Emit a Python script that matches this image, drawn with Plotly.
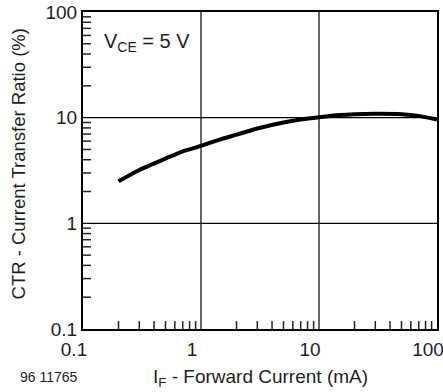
import plotly.graph_objects as go

# Data
forward_current_mA = [0.2, 0.3, 0.5, 0.7, 1.0, 1.5, 2.0, 3.0, 5.0, 7.0, 10.0, 15.0, 20.0, 30.0, 50.0, 70.0, 100.0]
ctr_percent = [2.5, 3.2, 4.1, 4.8, 5.4, 6.3, 6.9, 7.9, 9.0, 9.6, 10.1, 10.6, 10.8, 10.9, 10.8, 10.4, 9.6]

major_ticks = [0.1, 1, 10, 100]
major_labels = ["0.1", "1", "10", "100"]
minor_ticks = [round(m * d, 6) for d in major_ticks[:-1] for m in range(2, 10)]

FONT = "Liberation Sans, Arial, sans-serif"
TXT = "#1e1e1e"
TICK_PX = 8

fig = go.Figure()
fig.add_trace(go.Scatter(
    x=forward_current_mA, y=ctr_percent, mode="lines",
    line=dict(color="black", width=4, shape="spline", smoothing=0.6),
    hoverinfo="skip", showlegend=False,
))

axis_common = dict(
    type="log", range=[-1, 2],
    tickvals=major_ticks, ticktext=major_labels,
    ticks="", showgrid=False,
    showline=True, linecolor="black", linewidth=2, mirror=True,
    zeroline=False, automargin=False, ticklabeloverflow="allow",
    tickfont=dict(family=FONT, size=19, color=TXT),
)

fig.update_xaxes(**axis_common, ticklabelshift=-9, ticklabelstandoff=2)
fig.update_yaxes(**axis_common)

# decade grid lines
for v in major_ticks[1:-1]:
    fig.add_shape(type="line", xref="x", yref="paper", x0=v, x1=v, y0=0, y1=1,
                  line=dict(color="black", width=1.2), layer="below")
    fig.add_shape(type="line", xref="paper", yref="y", y0=v, y1=v, x0=0, x1=1,
                  line=dict(color="black", width=1.2), layer="below")

# inward minor ticks on bottom and left axes
for v in minor_ticks:
    fig.add_shape(type="line", xref="x", yref="paper", x0=v, x1=v,
                  ysizemode="pixel", yanchor=0, y0=0, y1=TICK_PX,
                  line=dict(color="#222", width=1.5), layer="above")
    fig.add_shape(type="line", xref="paper", yref="y", y0=v, y1=v,
                  xsizemode="pixel", xanchor=0, x0=0, x1=TICK_PX,
                  line=dict(color="#222", width=1.5), layer="above")

fig.add_annotation(
    text="V<sub>CE</sub> = 5 V", xref="paper", yref="paper",
    x=0.055, y=0.905, xanchor="left", yanchor="middle", showarrow=False,
    font=dict(family=FONT, size=20, color=TXT),
)
fig.add_annotation(
    text="CTR - Current Transfer Ratio (%)", xref="paper", yref="paper",
    x=-0.181, y=0.522, xanchor="center", yanchor="middle", textangle=-90,
    showarrow=False, font=dict(family=FONT, size=18.5, color=TXT),
)
fig.add_annotation(
    text="I<sub>F</sub> - Forward Current (mA)", xref="paper", yref="paper",
    x=0.5, y=-0.155, xanchor="center", yanchor="middle",
    showarrow=False, font=dict(family=FONT, size=19, color=TXT),
)
fig.add_annotation(
    text="96 11765", xref="paper", yref="paper",
    x=-0.096, y=-0.152, xanchor="center", yanchor="middle",
    showarrow=False, font=dict(family=FONT, size=14, color=TXT),
)

fig.update_layout(
    width=443, height=392,
    margin=dict(l=83, r=6, t=12, b=63),
    paper_bgcolor="white", plot_bgcolor="white",
)

fig.write_html("out.html")
